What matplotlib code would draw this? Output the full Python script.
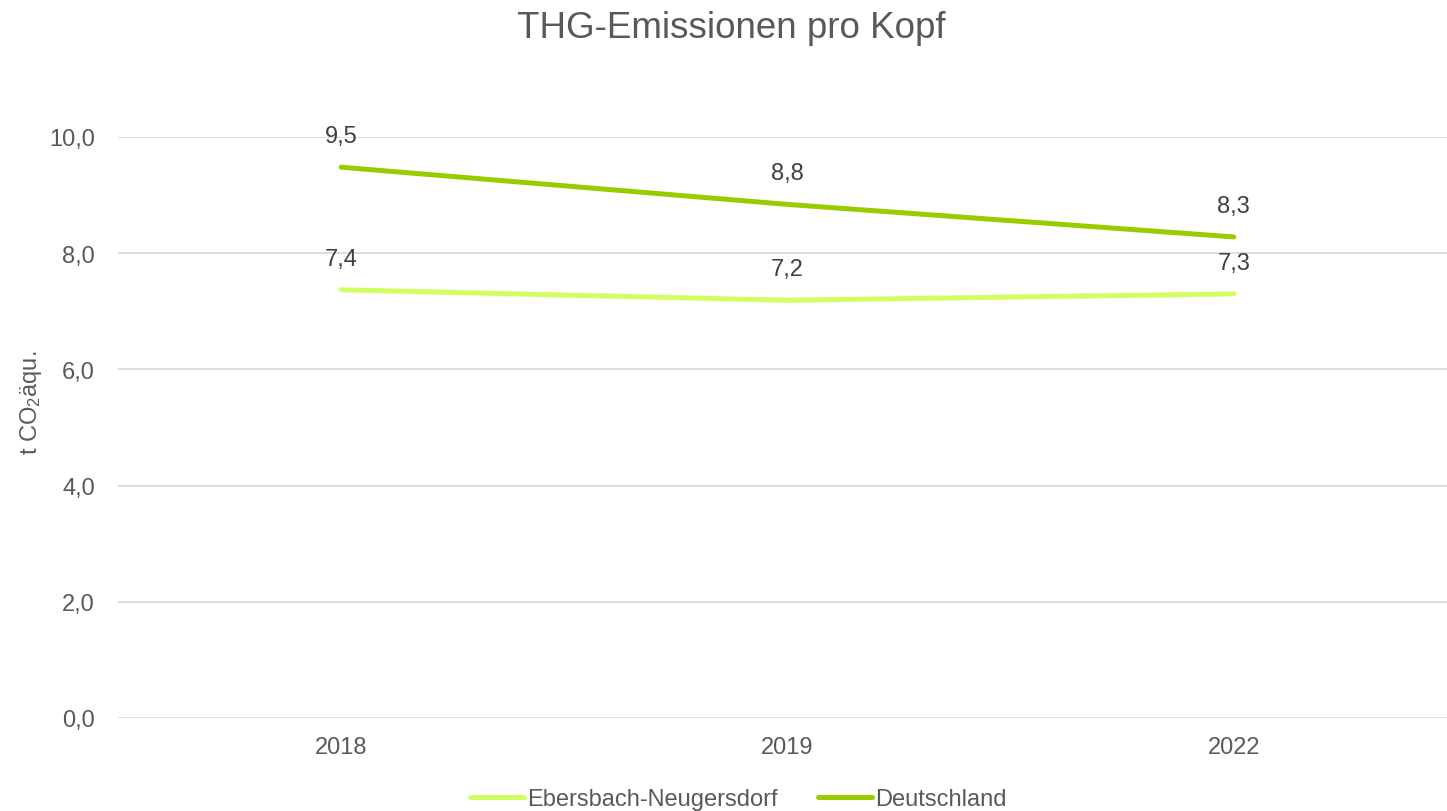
import matplotlib
matplotlib.use("Agg")
import matplotlib.pyplot as plt

plt.rcParams['font.family'] = ['Liberation Sans', 'DejaVu Sans']
plt.rcParams['mathtext.fontset'] = 'custom'
plt.rcParams['mathtext.rm'] = 'Liberation Sans'
plt.rcParams['mathtext.default'] = 'regular'

years = ["2018", "2019", "2022"]
ebersbach = [7.37, 7.19, 7.30]
deutschland = [9.48, 8.84, 8.28]
labels_eb = ["7,4", "7,2", "7,3"]
labels_de = ["9,5", "8,8", "8,3"]
yticks = [0, 2, 4, 6, 8, 10]
ytick_labels = ["0,0", "2,0", "4,0", "6,0", "8,0", "10,0"]

W, H = 1447, 812
fig = plt.figure(figsize=(W/100, H/100), dpi=100)
left, right, top, bottom = 118, 1457, 138, 719
ax = fig.add_axes([left/W, 1-bottom/H, (right-left)/W, (bottom-top)/H])

x = list(range(len(years)))
c_eb = "#D0FF62"
c_de = "#99CC00"
FS = 17
l1, = ax.plot(x, ebersbach, color=c_eb, lw=3.6, solid_capstyle='round', label="Ebersbach-Neugersdorf", clip_on=False)
l2, = ax.plot(x, deutschland, color=c_de, lw=3.6, solid_capstyle='round', label="Deutschland", clip_on=False)

for xi, v, t in zip(x, ebersbach, labels_eb):
    ax.annotate(t, (xi, v), xytext=(0, 31), textcoords='offset pixels', ha='center', va='center',
                fontsize=FS, color='#404040')
for xi, v, t in zip(x, deutschland, labels_de):
    ax.annotate(t, (xi, v), xytext=(0, 31), textcoords='offset pixels', ha='center', va='center',
                fontsize=FS, color='#404040')

ax.set_xlim(-0.5, 2.5)
ax.set_ylim(0, 10)
ax.set_yticks(yticks)
ax.set_yticklabels(ytick_labels)
ax.set_xticks(x)
ax.set_xticklabels(years)
ax.tick_params(axis='both', length=0, labelsize=FS, labelcolor='#595959')
ax.tick_params(axis='y', pad=16.5)
ax.tick_params(axis='x', pad=13)
ax.grid(axis='y', color='#D9D9D9', lw=1.3)
ax.set_axisbelow(True)
for s in ax.spines.values():
    s.set_visible(False)

fig.text(31/W, 1-403/H, r"t CO$_2$äqu.", rotation=90, ha='center', va='center', fontsize=FS, color='#595959')
fig.text(731/W, 1-28/H, "THG-Emissionen pro Kopf", ha='center', va='center', fontsize=26.5, color='#595959')

fig.legend(handles=[l1, l2], loc='center', bbox_to_anchor=(738/W, 1-800/H), ncol=2, frameon=False,
           fontsize=FS, labelcolor='#595959', handlelength=2.3, handletextpad=0.12, columnspacing=1.7,
           borderpad=0.2)

fig.savefig("out.png", dpi=100)
